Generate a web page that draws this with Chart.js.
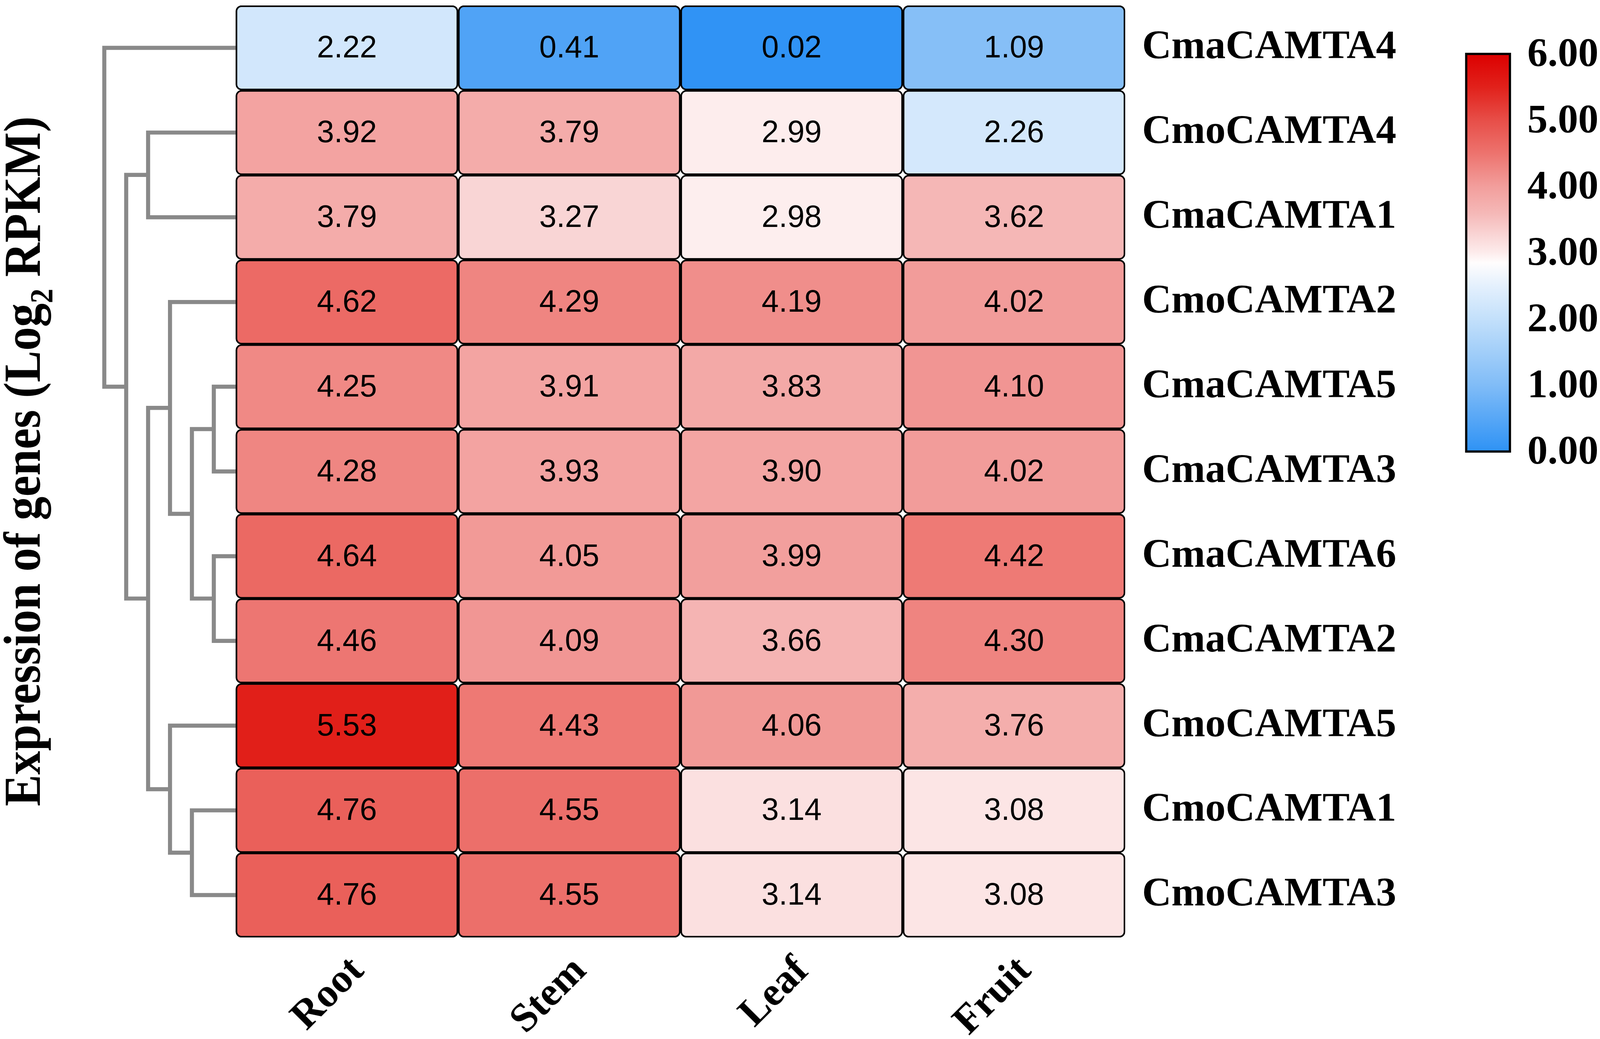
<!DOCTYPE html>
<html>
<head>
<meta charset="utf-8">
<script src="https://cdn.jsdelivr.net/npm/chart.js@4.4.0/dist/chart.umd.min.js"></script>
<style>
  html, body { margin: 0; padding: 0; background: #fff; overflow: hidden; }
  canvas { display: block; }
</style>
</head>
<body>
<canvas id="heat"></canvas>
<script>
const genes = ['CmaCAMTA4', 'CmoCAMTA4', 'CmaCAMTA1', 'CmoCAMTA2', 'CmaCAMTA5', 'CmaCAMTA3',
  'CmaCAMTA6', 'CmaCAMTA2', 'CmoCAMTA5', 'CmoCAMTA1', 'CmoCAMTA3'];
const tissues = ['Root', 'Stem', 'Leaf', 'Fruit'];

const root  = [2.22, 3.92, 3.79, 4.62, 4.25, 4.28, 4.64, 4.46, 5.53, 4.76, 4.76];
const stem  = [0.41, 3.79, 3.27, 4.29, 3.91, 3.93, 4.05, 4.09, 4.43, 4.55, 4.55];
const leaf  = [0.02, 2.99, 2.98, 4.19, 3.83, 3.90, 3.99, 3.66, 4.06, 3.14, 3.14];
const fruit = [1.09, 2.26, 3.62, 4.02, 4.10, 4.02, 4.42, 4.30, 3.76, 3.08, 3.08];

// row clustering: [child a, child b, level], leaves are 0..10, new nodes get 11, 12, ...
const merges = [
  [4, 5, 1], [6, 7, 1], [11, 12, 2], [9, 10, 2], [3, 13, 3],
  [8, 14, 3], [1, 2, 4], [15, 16, 4], [17, 18, 5], [0, 19, 6],
];

const colorTicks = [0, 1, 2, 3, 4, 5, 6];
const colorStops = [
  [0, [46, 146, 245]], [1, [128, 188, 247]], [2, [195, 224, 251]], [2.5, [228, 240, 253]],
  [2.85, [255, 253, 253]], [3, [253, 236, 236]], [3.3, [249, 210, 210]], [3.6, [245, 184, 183]],
  [4, [242, 158, 156]], [4.5, [237, 115, 110]], [5, [231, 78, 72]], [5.5, [225, 33, 27]],
  [6, [220, 0, 0]],
];

const series = [root, stem, leaf, fruit];
const serif = "'Liberation Serif', 'Times New Roman', serif";
const sans = "'Liberation Sans', Arial, sans-serif";
const levelWidth = 0.0985;   // one dendrogram level, in column units

// the layout was measured on a 4317 x 2660 figure; scale it to the window
const W = window.innerWidth, H = window.innerHeight;
const sx = W / 4317, sy = H / 2660;
const canvas = document.getElementById('heat');
canvas.width = W;
canvas.height = H;

function colorFor(v) {
  for (let i = 1; i < colorStops.length; i++) {
    const [v1, c1] = colorStops[i];
    const [v0, c0] = colorStops[i - 1];
    if (v <= v1) {
      const t = (v - v0) / (v1 - v0);
      const c = c0.map((a, k) => Math.round(a + (c1[k] - a) * t));
      return `rgb(${c[0]},${c[1]},${c[2]})`;
    }
  }
  const c = colorStops[colorStops.length - 1][1];
  return `rgb(${c[0]},${c[1]},${c[2]})`;
}

// dendrogram elbows as line datasets
function dendroDatasets() {
  const pos = genes.map((g, i) => ({ y: i, h: 0 }));
  const out = [];
  merges.forEach(([a, b, level]) => {
    const pa = pos[a], pb = pos[b];
    const x = -level * levelWidth;
    out.push({
      type: 'line',
      data: [
        { x: -pa.h * levelWidth, y: pa.y }, { x: x, y: pa.y },
        { x: x, y: pb.y }, { x: -pb.h * levelWidth, y: pb.y },
      ],
      borderColor: '#898989',
      borderWidth: 11 * sx,
      borderJoinStyle: 'miter',
      borderCapStyle: 'butt',
      pointRadius: 0,
      fill: false,
      tension: 0,
      clip: false,
    });
    pos.push({ y: (pa.y + pb.y) / 2, h: level });
  });
  return out;
}

const cellDatasets = tissues.map((t, c) => ({
  type: 'bar',
  label: t,
  indexAxis: 'y',
  data: genes.map((g, i) => ({ y: i, x: [c, c + 1] })),
  backgroundColor: ctx => colorFor(series[c][ctx.dataIndex]),
  borderColor: '#000',
  borderWidth: 4.5 * sx,
  borderRadius: 16 * sx,
  borderSkipped: false,
  grouped: false,
  barPercentage: 1,
  categoryPercentage: 1,
}));

const cellLabels = {
  id: 'cellLabels',
  afterDatasetsDraw(chart) {
    const ctx = chart.ctx;
    ctx.save();
    ctx.font = `${Math.round(79 * sy)}px ${sans}`;
    ctx.fillStyle = '#000';
    ctx.textAlign = 'center';
    ctx.textBaseline = 'middle';
    tissues.forEach((t, c) => {
      chart.getDatasetMeta(c).data.forEach((el, i) => {
        const p = el.getCenterPoint();
        ctx.fillText(series[c][i].toFixed(2), p.x, p.y + 3 * sy);
      });
    });
    ctx.restore();
  }
};

const sideTitle = {
  id: 'sideTitle',
  afterDraw(chart) {
    const ctx = chart.ctx;
    const size = 140 * sx;
    const main = `bold ${size}px ${serif}`;
    const sub = `bold ${size * 0.62}px ${serif}`;
    const a = 'Expression of genes (Log', s = '2', b = ' RPKM)';
    ctx.save();
    ctx.font = main;
    const wa = ctx.measureText(a).width, wb = ctx.measureText(b).width;
    ctx.font = sub;
    const ws = ctx.measureText(s).width;
    const total = wa + ws + wb;
    ctx.translate(108 * sx, 1181 * sy);
    ctx.rotate(-Math.PI / 2);
    ctx.scale(1766 * sy / total, 1);
    ctx.fillStyle = '#000';
    ctx.textBaseline = 'alphabetic';
    let x = -total / 2;
    ctx.font = main;
    ctx.fillText(a, x, 0);
    x += wa;
    ctx.font = sub;
    ctx.fillText(s, x, size * 0.24);
    x += ws;
    ctx.font = main;
    ctx.fillText(b, x, 0);
    ctx.restore();
  }
};

const colorBar = {
  id: 'colorBar',
  afterDraw(chart) {
    const ctx = chart.ctx;
    const left = 3956 * sx, right = 4074 * sx, top = 138 * sy, bottom = 1156 * sy;
    const lo = colorTicks[0], hi = colorTicks[colorTicks.length - 1];
    ctx.save();
    const grad = ctx.createLinearGradient(0, bottom, 0, top);
    colorStops.forEach(([v]) => grad.addColorStop((v - lo) / (hi - lo), colorFor(v)));
    ctx.fillStyle = grad;
    ctx.fillRect(left, top, right - left, bottom - top);
    ctx.lineWidth = 6 * sx;
    ctx.strokeStyle = '#000';
    ctx.strokeRect(left, top, right - left, bottom - top);
    ctx.font = `bold ${Math.round(104 * sy)}px ${serif}`;
    ctx.fillStyle = '#000';
    ctx.textAlign = 'left';
    ctx.textBaseline = 'middle';
    colorTicks.forEach(v => {
      const y = bottom - (v - lo) / (hi - lo) * (bottom - top);
      ctx.fillText(v.toFixed(2), 4121 * sx, y + 4 * sy);
    });
    ctx.restore();
  }
};

const labelFont = { family: serif, size: Math.round(104 * sy), weight: 'bold' };

new Chart(canvas, {
  data: { datasets: [...cellDatasets, ...dendroDatasets()] },
  options: {
    responsive: false,
    animation: false,
    devicePixelRatio: 1,
    layout: { padding: { left: 264 * sx, right: 0, top: 14 * sy, bottom: 0 } },
    plugins: { legend: { display: false }, tooltip: { enabled: false } },
    scales: {
      x: {
        type: 'linear', position: 'bottom', min: -0.62, max: 4, offset: false,
        grid: { display: false }, border: { display: false },
        afterBuildTicks: s => { s.ticks = tissues.map((t, i) => ({ value: i + 0.5 })); },
        afterFit: s => { s.height = 260 * sy; s.paddingLeft = 0; s.paddingRight = 0; },
        ticks: {
          callback: v => tissues[Math.floor(v)],
          autoSkip: false, minRotation: 45, maxRotation: 45,
          labelOffset: 30 * sx, padding: 18 * sy, color: '#000', font: labelFont,
        },
      },
      y: {
        type: 'linear', position: 'right', min: -0.5, max: 10.5, reverse: true, offset: false,
        grid: { display: false }, border: { display: false },
        afterBuildTicks: s => { s.ticks = genes.map((g, i) => ({ value: i })); },
        afterFit: s => { s.width = W - 3036 * sx; s.paddingTop = 0; s.paddingBottom = 0; },
        ticks: {
          callback: v => genes[v],
          autoSkip: false, padding: 37 * sx, color: '#000', font: labelFont,
        },
      },
    },
  },
  plugins: [cellLabels, sideTitle, colorBar],
});
</script>
</body>
</html>
